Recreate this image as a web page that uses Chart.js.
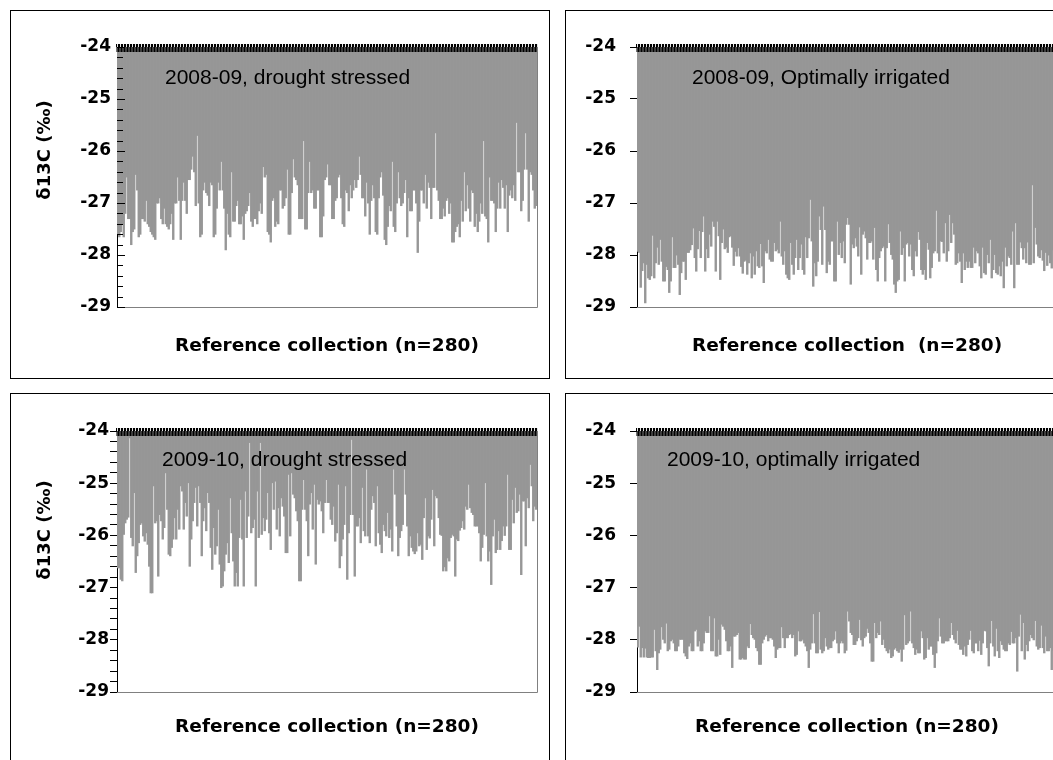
<!DOCTYPE html>
<html>
<head>
<meta charset="utf-8">
<script src="https://cdn.jsdelivr.net/npm/chart.js@4.4.0/dist/chart.umd.min.js"></script>
<style>
  html, body { margin: 0; padding: 0; background: #fff; width: 1053px; height: 760px; overflow: hidden; }
  .panel { position: absolute; border: 1px solid #000; background: #fff; }
  .panel canvas { display: block; }
</style>
</head>
<body>
<div class="panel" style="left:10px;top:10px;width:538px;height:367px"><canvas id="c1" width="538" height="367"></canvas></div>
<div class="panel" style="left:565px;top:10px;width:538px;height:367px"><canvas id="c2" width="538" height="367"></canvas></div>
<div class="panel" style="left:10px;top:393px;width:538px;height:370px"><canvas id="c3" width="538" height="370"></canvas></div>
<div class="panel" style="left:565px;top:393px;width:538px;height:370px"><canvas id="c4" width="538" height="370"></canvas></div>
<script>
const Y_MIN = -29, Y_MAX = -24;

// d13C per accession (n=280)
const drought0809 = [
  -27.6,-27.65,-27.55,-27.4,-27.65,-27.2,-26.5,-27.3,-27.3,-27.8,
  -27.55,-27.5,-26.45,-26.75,-27.65,-27.6,-27.3,-27.3,-27.35,-26.95,
  -27.4,-27.45,-27.55,-27.6,-27.65,-27.7,-27.0,-27.0,-26.9,-27.3,
  -27.4,-27.1,-27.4,-27.45,-27.5,-27.4,-27.2,-27.7,-27.0,-27.0,
  -26.5,-26.95,-27.7,-26.95,-26.6,-26.95,-27.2,-26.55,-26.55,-26.35,
  -26.1,-26.4,-27.05,-25.7,-27.0,-27.65,-27.6,-26.75,-26.6,-26.8,
  -26.85,-27.05,-26.6,-26.65,-27.65,-27.6,-27.1,-26.6,-26.75,-26.2,
  -26.75,-27.1,-27.9,-27.2,-27.6,-27.65,-26.4,-27.35,-27.35,-27.05,
  -26.95,-27.4,-27.4,-27.25,-27.7,-27.2,-27.15,-27.05,-26.8,-27.35,
  -27.45,-27.3,
  -27.3,-27.4,-27.15,-27.0,-27.2,-26.3,-26.5,-26.45,-27.55,-27.6,
  -27.75,-26.95,-26.9,-27.45,-27.35,-27.4,-26.75,-26.75,-27.1,-27.05,
  -26.9,-26.35,-27.6,-27.6,-26.8,-26.15,-26.5,-26.55,-26.65,-27.3,
  -27.3,-27.3,-25.8,-27.5,-27.5,-26.8,-26.2,-26.8,-26.75,-27.1,
  -27.1,-26.75,-26.75,-27.65,-27.65,-27.25,-26.55,-26.5,-26.25,-26.65,
  -26.65,-27.3,-27.3,-26.95,-26.9,-26.5,-26.45,-26.9,-27.4,-27.45,
  -26.75,-26.8,-27.15,-26.65,-26.9,-26.75,-26.55,-26.7,-26.55,-26.1,
  -26.45,-26.9,-26.9,-27.25,-26.6,-27.0,-27.6,-26.95,-26.65,-26.9,
  -27.55,-27.6,-26.9,-26.5,-26.4,-26.85,-27.7,-27.8,-27.45,-27.05,
  -27.15,-26.2,-27.45,-27.55,-27.0,-26.4,-26.9,
  -27.05,-27.0,-26.8,-26.55,-27.65,-26.9,-27.15,-27.15,-26.75,-26.75,
  -27.0,-27.95,-27.35,-26.75,-26.75,-27.0,-26.45,-27.1,-26.6,-26.7,
  -27.3,-26.7,-26.7,-25.65,-26.75,-26.95,-27.3,-27.3,-27.1,-27.25,
  -26.95,-26.9,-27.2,-27.0,-27.75,-27.75,-27.55,-27.45,-27.4,-27.65,
  -26.95,-27.35,-26.4,-27.15,-26.65,-27.1,-27.35,-26.75,-26.8,-27.45,
  -27.2,-27.55,-27.35,-27.0,-27.2,-25.8,-27.25,-27.3,-27.75,-26.5,
  -26.95,-26.95,-27.0,-27.55,-27.1,-26.6,-27.1,-26.55,-26.7,-27.1,
  -26.65,-27.55,-26.85,-26.75,-26.9,-26.65,-26.95,-25.45,-26.4,-26.4,
  -27.15,-26.95,-26.35,-25.65,-26.35,-27.35,-26.4,-26.45,-26.75,-27.1,-27.05
];

const irrigated0809 = [
  -27.93,-27.95,-28.62,-28.3,-28.15,-28.92,-28.18,-28.44,-28.47,-28.4,
  -27.62,-28.44,-28.15,-27.85,-28.18,-27.7,-28.12,-28.5,-28.5,-28.22,
  -28.28,-28.72,-28.5,-27.65,-28.24,-28.24,-28.0,-28.18,-28.76,-28.34,
  -28.12,-28.12,-28.47,-27.95,-27.95,-27.9,-27.8,-27.48,-28.05,-28.31,
  -27.88,-27.53,-28.05,-27.55,-27.25,-28.31,-27.88,-28.05,-27.6,-27.83,
  -27.35,-27.45,-28.31,-27.35,-27.63,-28.47,-27.76,-27.5,-27.88,-27.85,
  -27.95,-27.65,-27.63,-27.85,-28.2,-27.93,-28.02,-27.86,-28.02,-28.22,
  -28.35,-28.12,-28.1,
  -28.37,-28.15,-27.96,-28.44,-28.02,-28.37,-27.92,-28.21,-28.24,-27.78,
  -28.21,-28.53,-27.92,-27.96,-27.7,-28.08,-28.12,-28.12,-27.76,-27.92,
  -27.89,-27.96,-27.35,-28.02,-28.18,-27.92,-28.37,-28.44,-28.47,-27.76,
  -28.18,-28.37,-28.05,-27.7,-28.28,-28.05,-27.79,-28.28,-28.37,-27.65,
  -28.05,-27.67,-26.93,-27.73,-28.6,-28.15,-28.4,-28.12,-27.25,-27.51,
  -28.18,-27.06,-27.51,-28.34,-28.12,-28.18,-27.73,-27.73,-28.5,-28.5,
  -27.35,-27.99,-27.76,-28.05,-27.73,-28.15,-27.41,-27.28,-27.41,-28.56,
  -27.79,-27.86,-27.67,-27.83,-28.02,-27.46,-28.37,-27.6,-27.54,-27.67,
  -28.08,-27.76,-27.76,-27.73,-28.08,-27.47,-28.28,-28.5,-28.05,-27.92,
  -27.86,-27.83,-28.5,-27.86,-27.4,-27.76,-27.99,-28.08,-28.56,-28.72,
  -28.5,-28.47,-27.54,
  -27.99,-27.86,-28.5,-27.79,-27.76,-28.02,-27.79,-28.28,-28.4,-27.92,
  -28.02,-27.55,-27.7,-28.28,-28.37,-28.28,-28.47,-27.76,-27.89,-28.44,
  -28.24,-27.96,-27.92,-27.14,-27.96,-28.12,-27.73,-27.74,-27.96,-27.38,
  -28.12,-27.92,-27.22,-27.76,-27.38,-27.6,-28.18,-28.15,-27.96,-28.12,
  -28.53,-27.96,-28.28,-28.12,-28.24,-28.12,-28.24,-28.24,-27.85,-28.15,
  -27.92,-27.96,-28.21,-28.44,-27.85,-28.34,-28.37,-27.99,-28.15,-27.7,
  -28.44,-28.28,-27.99,-28.34,-28.37,-28.21,-28.4,-28.12,-28.63,-27.85,
  -28.21,-28.02,-28.05,-28.18,-27.54,-28.63,-27.38,-28.18,-28.18,-27.75,
  -27.86,-28.08,-27.86,-28.15,-27.75,-28.18,-28.18,-26.65,-28.15,-27.47,
  -27.79,-28.02,-28.05,-27.9,-28.1,-28.3,-27.95,-28.2,-28.0,-28.15,
  -28.25,-27.9,-28.1,-28.3
];

const drought0910 = [
  -26.62,-26.62,-26.84,-26.87,-25.98,-25.76,-25.69,-25.65,-24.13,-26.04,
  -26.2,-25.18,-26.71,-26.39,-26.14,-25.79,-25.76,-26.01,-26.11,-25.95,
  -26.17,-26.59,-27.1,-27.1,-25.05,-25.76,-25.72,-26.78,-25.6,-25.72,
  -26.07,-25.85,-24.8,-25.5,-26.36,-26.39,-26.23,-26.07,-25.66,-26.07,
  -25.5,-25.88,-25.05,-25.15,-25.88,-25.37,-25.63,-24.99,-26.59,-26.07,
  -25.72,-25.37,-25.08,-25.82,-25.05,-25.37,-26.39,-25.72,-25.47,-25.91,
  -25.18,-25.37,-26.23,-26.65,-25.85,-26.36,-26.2,-25.5,-26.55,-27.0,
  -26.97,-26.68,-26.36,-26.14,-26.52,-25.28,-25.95,-26.49,-26.97,-26.71,
  -26.97,-26.04,-25.31,-26.07,-26.97,-25.15,-26.04,-25.63,-24.22,-25.95,
  -25.85,-25.69,
  -26.97,-25.15,-26.04,-24.22,-25.98,-25.66,-25.91,-25.69,-25.18,-25.95,
  -26.27,-24.99,-25.5,-24.96,-25.88,-25.47,-26.01,-25.28,-25.44,-25.63,
  -26.33,-26.33,-24.83,-26.01,-24.8,-25.21,-25.28,-25.53,-25.72,-26.87,
  -26.87,-25.5,-24.93,-25.5,-25.72,-26.39,-25.4,-25.18,-25.88,-25.02,
  -26.55,-25.31,-25.4,-25.34,-25.53,-25.95,-25.37,-24.93,-25.37,-25.37,
  -25.69,-25.79,-25.44,-26.11,-25.95,-25.02,-26.62,-26.39,-26.07,-25.79,
  -25.05,-26.84,-25.95,-25.6,-24.16,-25.6,-26.78,-25.82,-25.82,-25.66,
  -26.14,-25.08,-25.91,-26.01,-24.73,-26.01,-26.14,-25.5,-25.24,-25.37,
  -26.2,-25.05,-25.95,-26.17,-26.33,-25.79,-25.91,-26.01,-25.56,-26.04,
  -25.88,-26.3,-24.73,-25.21,-25.82,-26.39,-26.04,
  -25.91,-25.79,-24.73,-25.21,-25.82,-26.39,-26.01,-26.23,-26.3,-26.35,
  -26.3,-25.95,-26.2,-26.17,-26.46,-25.66,-25.28,-26.27,-26.01,-26.05,
  -25.69,-25.12,-26.2,-25.24,-25.28,-25.66,-25.98,-26.0,-26.68,-26.6,
  -26.68,-26.43,-26.49,-26.04,-25.98,-26.01,-26.78,-26.07,-26.1,-25.9,
  -25.85,-25.72,-25.88,-25.44,-25.5,-25.02,-25.47,-25.56,-25.6,-25.82,
  -25.82,-25.82,-25.95,-26.49,-26.23,-25.98,-24.99,-26.01,-26.49,-26.3,
  -26.94,-26.01,-25.69,-26.33,-26.27,-25.91,-26.27,-26.1,-25.82,-26.0,
  -25.82,-24.83,-26.27,-26.27,-25.31,-25.76,-25.08,-25.56,-25.53,-25.21,
  -26.75,-25.34,-25.34,-26.2,-25.28,-25.47,-24.64,-25.05,-25.72,-25.44,-25.5
];

const irrigated0910 = [
  -28.14,-27.74,-28.33,-28.15,-28.33,-28.16,-28.33,-28.34,-28.34,-28.33,
  -28.33,-27.8,-28.21,-28.57,-28.25,-28.18,-27.75,-27.99,-28.06,-27.68,
  -28.21,-28.18,-28.02,-27.99,-28.06,-28.21,-28.21,-28.12,-27.99,-27.99,
  -27.99,-28.25,-28.31,-28.36,-28.12,-28.06,-28.21,-28.21,-27.83,-27.8,
  -28.12,-28.02,-28.21,-28.21,-28.06,-27.83,-27.86,-27.86,-27.54,-28.21,
  -28.21,-27.58,-28.31,-28.31,-27.99,-28.28,-27.7,-27.74,-27.8,-28.02,
  -28.21,-28.21,-28.12,-28.53,-27.93,-27.93,-27.9,-27.86,-28.37,-28.37,
  -28.34,-28.37,-28.37,
  -28.12,-28.15,-27.69,-27.9,-27.96,-27.99,-28.15,-28.21,-28.47,-28.47,
  -28.06,-27.99,-27.93,-27.9,-28.02,-27.96,-27.96,-27.99,-28.12,-28.34,
  -28.18,-28.15,-28.15,-27.75,-27.96,-28.15,-27.96,-27.96,-27.9,-27.88,
  -27.96,-27.9,-28.31,-28.28,-27.83,-28.02,-28.02,-27.99,-28.06,-28.12,
  -28.21,-28.53,-28.18,-28.06,-27.5,-28.06,-28.25,-28.25,-27.46,-28.18,
  -28.25,-28.21,-27.96,-28.12,-28.18,-28.15,-28.15,-28.02,-27.99,-27.83,
  -28.06,-28.25,-28.06,-28.02,-28.06,-28.25,-28.2,-27.45,-27.64,-27.86,
  -27.9,-28.09,-28.09,-28.02,-27.96,-27.61,-28.0,-28.12,-27.96,-27.93,
  -27.78,-27.86,-28.06,-28.41,-28.41,-27.67,-27.96,-27.86,-27.9,-27.64,
  -28.09,-27.99,-28.15,-28.21,-28.25,-28.18,-28.34,-28.31,-28.18,-28.15,
  -28.21,-28.24,-28.18,
  -28.41,-28.18,-27.52,-28.09,-28.06,-28.02,-27.45,-28.06,-28.15,-28.28,
  -28.18,-28.25,-28.25,-27.83,-27.96,-28.37,-28.34,-27.96,-28.18,-28.12,
  -28.12,-28.28,-28.53,-28.25,-28.02,-27.58,-27.93,-28.06,-28.06,-28.02,
  -28.02,-28.02,-27.96,-27.67,-27.9,-27.99,-28.06,-27.82,-28.09,-28.18,
  -28.18,-28.28,-28.12,-28.31,-28.09,-27.99,-27.82,-28.21,-28.25,-28.06,
  -28.06,-28.21,-28.01,-28.28,-28.06,-27.82,-27.83,-28.15,-28.5,-28.06,
  -27.63,-28.12,-28.31,-27.78,-28.21,-28.34,-28.02,-28.09,-28.18,-28.21,
  -28.21,-28.06,-28.09,-27.84,-28.06,-28.06,-27.96,-28.6,-27.93,-27.51,
  -28.21,-27.67,-28.37,-28.09,-28.21,-28.02,-27.9,-27.96,-28.0,-27.63,
  -28.12,-28.18,-28.15,-27.72,-28.15,-28.25,-27.93,-28.21,-28.21,-28.15,
  -28.57,-28.2,-28.1,-28.3
];

const X_TITLE = 'Reference collection (n=280)';
const X_TITLE_B = 'Reference collection  (n=280)';
const Y_TITLE = '\u03B413C (\u2030)';

const TICK_FONT = { family: 'DejaVu Sans', size: 17, weight: 'bold' };
const TITLE_FONT = { family: 'DejaVu Sans', size: 18.5, weight: 'bold' };

const panelDecor = {
  id: 'panelDecor',
  afterDatasetsDraw(chart) {
    // category tick marks reaching down into the bars, under the top axis line
    const { ctx, chartArea: a } = chart;
    const x = chart.scales.x;
    const n = chart.data.labels.length;
    const slot = x.getPixelForValue(1) - x.getPixelForValue(0);
    ctx.save();
    ctx.strokeStyle = '#000';
    ctx.lineWidth = 1.1;
    ctx.beginPath();
    for (let i = 0; i <= n; i++) {
      const px = x.getPixelForValue(Math.min(i, n - 1)) + (i < n ? -slot / 2 : slot / 2);
      ctx.moveTo(px, a.top);
      ctx.lineTo(px, a.top + 5);
    }
    ctx.stroke();
    ctx.restore();
  },
  afterDraw(chart, args, opts) {
    const { ctx, chartArea: a } = chart;
    const y = chart.scales.y;
    ctx.save();
    // plot-area frame on the right and bottom
    ctx.strokeStyle = '#808080';
    ctx.lineWidth = 1;
    ctx.beginPath();
    const r = Math.round(a.right) + 0.5, b = Math.round(a.bottom) + 0.5;
    ctx.moveTo(r, a.top);
    ctx.lineTo(r, b);
    ctx.lineTo(a.left, b);
    ctx.stroke();

    // minor ticks pointing into the plot
    if (opts.innerTicks) {
      ctx.strokeStyle = '#000';
      ctx.beginPath();
      for (let k = 0; k <= 25; k++) {
        const py = Math.round(y.getPixelForValue(Y_MIN + k * 0.2)) + 0.5;
        const len = k % 5 === 0 ? 8 : 6;
        ctx.moveTo(a.left, py);
        ctx.lineTo(a.left + len, py);
      }
      ctx.stroke();
    }

    ctx.fillStyle = '#000';
    ctx.font = '21px "Liberation Sans", Arial, sans-serif';
    ctx.textBaseline = 'middle';
    ctx.textAlign = 'left';
    ctx.fillText(opts.note, a.left + opts.noteDx, a.top + opts.noteDy);

    if (opts.yTitle) {
      ctx.translate(opts.yTitleX, opts.yTitleY);
      ctx.rotate(-Math.PI / 2);
      ctx.textAlign = 'center';
      ctx.font = 'bold 18px "DejaVu Sans", sans-serif';
      ctx.fillText(opts.yTitle, 0, 0);
    }
    ctx.restore();
  }
};

function makePanel(id, values, cfg) {
  const labels = values.map((v, i) => i + 1);
  return new Chart(document.getElementById(id), {
    type: 'bar',
    data: {
      labels,
      datasets: [{
        data: values.map(v => [Y_MAX, v]),
        backgroundColor: '#979797',
        borderWidth: 0,
        inflateAmount: 0.45,
        barPercentage: 1,
        categoryPercentage: 1
      }]
    },
    options: {
      responsive: false,
      animation: false,
      layout: { padding: { top: cfg.top - 3, right: cfg.padRight, left: 0, bottom: 0 } },
      plugins: {
        legend: { display: false },
        tooltip: { enabled: false },
        panelDecor: cfg.decor
      },
      scales: {
        x: {
          position: 'top',
          offset: true,
          ticks: { display: false },
          grid: { offset: true, drawOnChartArea: false, tickLength: 3, color: '#000', lineWidth: 1.1 },
          border: { display: true, color: '#000', width: 1 },
          afterFit: s => { s.height = 3; }
        },
        xt: {
          type: 'category',
          labels,
          position: 'bottom',
          ticks: { display: false },
          grid: { display: false, drawTicks: false },
          border: { display: false },
          title: {
            display: true,
            text: cfg.xTitle,
            color: '#000',
            font: TITLE_FONT,
            padding: { top: 0, bottom: cfg.titleBottom }
          },
          afterFit: s => { s.height = cfg.bottomH; }
        },
        y: {
          min: Y_MIN,
          max: Y_MAX,
          position: 'left',
          ticks: {
            stepSize: cfg.step,
            autoSkip: false,
            color: '#000',
            font: TICK_FONT,
            padding: cfg.tickPad,
            callback: v => Math.abs(v - Math.round(v)) < 1e-6 ? String(Math.round(v)) : ''
          },
          grid: { drawOnChartArea: false, drawTicks: cfg.tickLen > 0, tickLength: cfg.tickLen, color: '#000' },
          border: { display: true, color: '#000', width: 1 },
          afterFit: s => { s.width = cfg.yWidth; }
        }
      }
    },
    plugins: [panelDecor]
  });
}

Chart.defaults.font.family = '"Liberation Sans", Arial, sans-serif';

makePanel('c1', drought0809, {
  top: 36, padRight: 12, yWidth: 106, step: 0.2, tickLen: 0, tickPad: 6,
  bottomH: 71, titleBottom: 21, xTitle: X_TITLE,
  decor: { note: '2008-09, drought stressed', noteDx: 48, noteDy: 31, innerTicks: true,
           yTitle: Y_TITLE, yTitleX: 34, yTitleY: 139 }
});
makePanel('c2', irrigated0809, {
  top: 36, padRight: 47, yWidth: 71, step: 1, tickLen: 7, tickPad: 14,
  bottomH: 71, titleBottom: 21, xTitle: X_TITLE_B,
  decor: { note: '2008-09, Optimally irrigated', noteDx: 55, noteDy: 31, innerTicks: false }
});
makePanel('c3', drought0910, {
  top: 37, padRight: 12, yWidth: 106, step: 0.2, tickLen: 7, tickPad: 1,
  bottomH: 72, titleBottom: 26, xTitle: X_TITLE,
  decor: { note: '2009-10, drought stressed', noteDx: 45, noteDy: 29, innerTicks: false,
           yTitle: Y_TITLE, yTitleX: 34, yTitleY: 136 }
});
makePanel('c4', irrigated0910, {
  top: 37, padRight: 47, yWidth: 71, step: 1, tickLen: 7, tickPad: 14,
  bottomH: 72, titleBottom: 26, xTitle: X_TITLE,
  decor: { note: '2009-10, optimally irrigated', noteDx: 30, noteDy: 29, innerTicks: false }
});
</script>
</body>
</html>
